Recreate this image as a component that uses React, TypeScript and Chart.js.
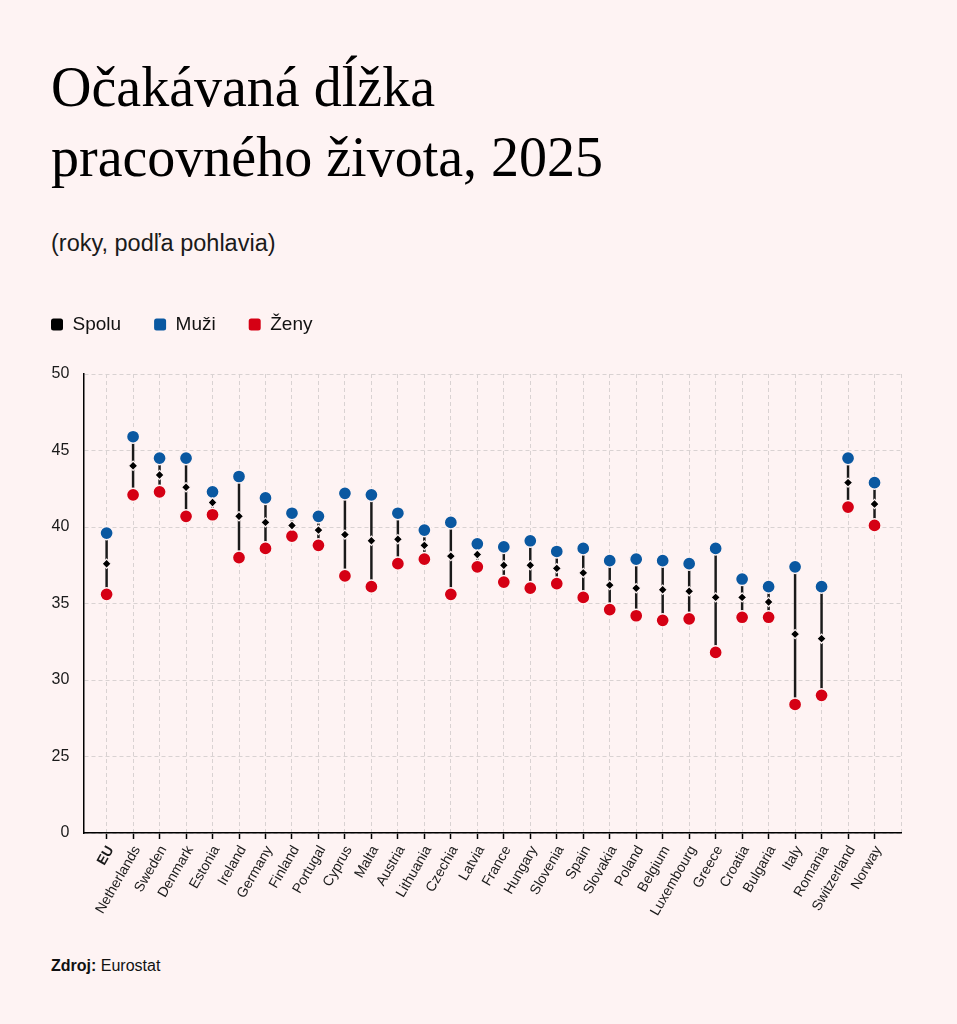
import React, { useEffect, useRef } from 'react';
import { Chart, registerables } from 'chart.js';

Chart.register(...registerables);

const BG = '#fef3f3';
const BLUE = '#0a58a1';
const RED = '#d50014';
const BLACK = '#000000';
const GRID = '#d9d2d2';
const SANS = '"Liberation Sans", Arial, Helvetica, sans-serif';
const SERIF = '"Liberation Serif", "Times New Roman", Times, serif';

const categories = [
  'EU', 'Netherlands', 'Sweden', 'Denmark', 'Estonia', 'Ireland', 'Germany', 'Finland',
  'Portugal', 'Cyprus', 'Malta', 'Austria', 'Lithuania', 'Czechia', 'Latvia', 'France',
  'Hungary', 'Slovenia', 'Spain', 'Slovakia', 'Poland', 'Belgium', 'Luxembourg', 'Greece',
  'Croatia', 'Bulgaria', 'Italy', 'Romania', 'Switzerland', 'Norway',
];

const spolu = [
  37.6, 44.0, 43.4, 42.6, 41.6, 40.7, 40.3, 40.1, 39.8, 39.5, 39.1, 39.2, 38.8, 38.1, 38.2,
  37.5, 37.5, 37.3, 37.0, 36.2, 36.0, 35.9, 35.8, 35.4, 35.4, 35.1, 33.0, 32.7, 42.9, 41.5,
];

const muzi = [
  39.6, 45.9, 44.5, 44.5, 42.3, 43.3, 41.9, 40.9, 40.7, 42.2, 42.1, 40.9, 39.8, 40.3, 38.9,
  38.7, 39.1, 38.4, 38.6, 37.8, 37.9, 37.8, 37.6, 38.6, 36.6, 36.1, 37.4, 36.1, 44.5, 42.9,
];

const zeny = [
  35.6, 42.1, 42.3, 40.7, 40.8, 38.0, 38.6, 39.4, 38.8, 36.8, 36.1, 37.6, 37.9, 35.6, 37.4,
  36.4, 36.0, 36.3, 35.4, 34.6, 34.2, 33.9, 34.0, 31.8, 34.1, 34.1, 28.4, 29.0, 41.3, 40.1,
];

const seriesLabels = ['Spolu', 'Muži', 'Ženy'];

// y axis: visible range 20–50, lowest tick is labelled "0" (broken axis)
const yMin = 20;
const yMax = 50;
const yStep = 5;
const yBreakLabel = '0';

const legendGapPlugin = {
  id: 'legendGap',
  afterInit(chart: any) {
    const lg = chart.legend;
    if (!lg) return;
    const orig = lg.fit;
    lg.fit = function () {
      orig.call(this);
      this.height += 30;
    };
  },
};

export default function App() {
  const ref = useRef<HTMLCanvasElement | null>(null);

  useEffect(() => {
    document.body.style.background = BG;
    const canvas = ref.current;
    if (!canvas) return;
    const idx = categories.map((_, i) => i);
    const chart = new Chart(canvas, {
      type: 'bar',
      data: {
        datasets: [
          {
            type: 'scatter',
            label: seriesLabels[0],
            data: idx.map((i) => ({ x: i, y: spolu[i] })),
            pointStyle: 'rectRot',
            pointRadius: 4.6,
            backgroundColor: BLACK,
            borderColor: BG,
            borderWidth: 1.2,
          },
          {
            type: 'scatter',
            label: seriesLabels[1],
            data: idx.map((i) => ({ x: i, y: muzi[i] })),
            pointStyle: 'circle',
            pointRadius: 6.6,
            backgroundColor: BLUE,
            borderColor: BG,
            borderWidth: 1.5,
          },
          {
            type: 'scatter',
            label: seriesLabels[2],
            data: idx.map((i) => ({ x: i, y: zeny[i] })),
            pointStyle: 'circle',
            pointRadius: 6.6,
            backgroundColor: RED,
            borderColor: BG,
            borderWidth: 1.5,
          },
          {
            type: 'bar',
            label: 'range',
            data: idx.map((i) => ({ x: i, y: [zeny[i], muzi[i]] })),
            backgroundColor: '#1a1a1a',
            borderWidth: 0,
            barThickness: 1.8,
          } as any,
        ],
      },
      options: {
        responsive: false,
        animation: false,
        events: [],
        layout: { padding: { left: 18, right: 56, top: 0, bottom: 0 } },
        plugins: {
          tooltip: { enabled: false },
          title: { display: false },
          legend: {
            display: true,
            position: 'top',
            align: 'start',
            labels: {
              boxWidth: 12,
              boxHeight: 12,
              padding: 33,
              useBorderRadius: true,
              borderRadius: 2.5,
              color: '#111',
              font: { family: SANS, size: 19 },
              generateLabels: (c: any) =>
                c.data.datasets.slice(0, 3).map((d: any, i: number) => ({
                  text: d.label,
                  fillStyle: d.backgroundColor,
                  strokeStyle: d.backgroundColor,
                  lineWidth: 0,
                  hidden: false,
                  datasetIndex: i,
                  borderRadius: 2.5,
                  fontColor: '#111',
                })),
            },
          },
        },
        scales: {
          x: {
            type: 'linear',
            bounds: 'data',
            offset: false,
            min: -0.88,
            max: categories.length,
            afterBuildTicks: (s: any) => {
              s.ticks = [...idx.map((i) => ({ value: i })), { value: categories.length }];
            },
            afterFit: (s: any) => {
              s.height = 100;
            },
            ticks: {
              autoSkip: false,
              minRotation: 60,
              maxRotation: 60,
              padding: 4,
              labelOffset: 4,
              color: '#1a1a1a',
              font: (ctx: any) => ({
                family: SANS,
                size: 14,
                weight: ctx.tick && ctx.tick.value === 0 ? 'bold' : 'normal',
              }),
              callback: (v: any) =>
                Number.isInteger(v) && v >= 0 && v < categories.length ? categories[v] : '',
            },
            grid: {
              offset: false,
              color: GRID,
              lineWidth: 1,
              tickLength: 6,
              tickWidth: 1.5,
              tickBorderDash: [],
              tickColor: (ctx: any) =>
                ctx.tick && ctx.tick.value < categories.length ? '#000' : 'rgba(0,0,0,0)',
            },
            border: { color: '#000', width: 1.5, dash: [4, 3] },
          },
          y: {
            type: 'linear',
            min: yMin,
            max: yMax,
            afterFit: (s: any) => {
              s.width = 65.3;
            },
            ticks: {
              stepSize: yStep,
              padding: 14,
              color: '#1a1a1a',
              font: { family: SANS, size: 16 },
              callback: (v: any) => (v === yMin ? yBreakLabel : String(v)),
            },
            grid: { color: GRID, lineWidth: 1, drawTicks: false },
            border: { color: '#000', width: 1.5, dash: [4, 3] },
          },
        },
      } as any,
      plugins: [legendGapPlugin],
    });
    return () => chart.destroy();
  }, []);

  return (
    <div
      style={{
        position: 'absolute',
        left: 0,
        top: 0,
        width: 957,
        height: 1024,
        background: BG,
        overflow: 'hidden',
        fontFamily: SANS,
      }}
    >
      <div
        style={{
          position: 'absolute',
          left: 51,
          top: 52,
          fontFamily: SERIF,
          fontSize: 56,
          lineHeight: '70px',
          color: '#000',
          whiteSpace: 'nowrap',
        }}
      >
        Očakávaná dĺžka
        <br />
        pracovného života, 2025
      </div>
      <div
        style={{
          position: 'absolute',
          left: 51,
          top: 232,
          fontSize: 23.5,
          lineHeight: '23.5px',
          color: '#1a1a1a',
          whiteSpace: 'nowrap',
        }}
      >
        (roky, podľa pohlavia)
      </div>
      <canvas
        ref={ref}
        width={957}
        height={651}
        style={{ position: 'absolute', left: 0, top: 282, width: 957, height: 651 }}
      />
      <div
        style={{
          position: 'absolute',
          left: 51,
          top: 958,
          fontSize: 16,
          lineHeight: '16px',
          color: '#111',
          whiteSpace: 'nowrap',
        }}
      >
        <b>Zdroj:</b> Eurostat
      </div>
    </div>
  );
}
